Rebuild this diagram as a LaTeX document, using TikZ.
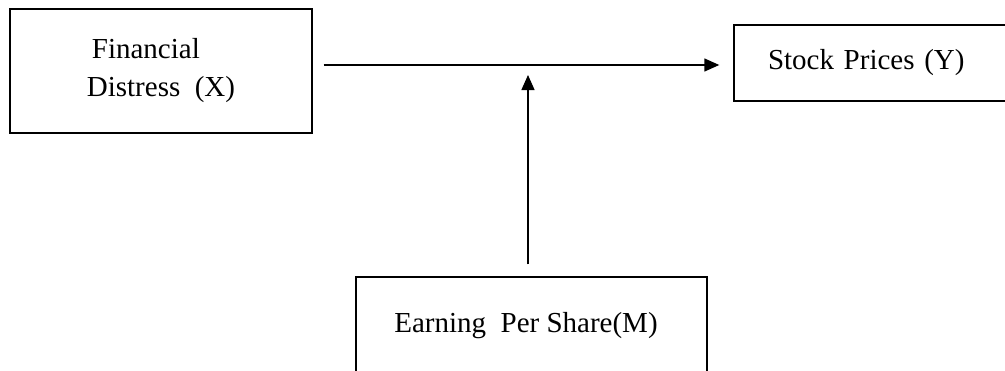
\documentclass[tikz,border=0pt]{standalone}
\usepackage{fontspec}
\setmainfont{Liberation Serif}
\usetikzlibrary{arrows.meta}
\begin{document}
\begin{tikzpicture}[x=1pt,y=-1pt,
  box/.style={draw,line width=1.4pt,rectangle,inner sep=0pt,font=\fontsize{29}{38}\selectfont},
  conn/.style={line width=1.4pt,-{Triangle[length=15pt,width=13pt]}}]
\useasboundingbox (0,0) rectangle (1005,370);
\node[box,minimum width=302pt,minimum height=124pt,align=left] (fd) at (161,71) {\hspace{5pt}Financial\\Distress\ \ (X)};
\node[box,minimum width=280pt,minimum height=76pt,text width=280pt,align=left] (sp) at (874,63) {\hspace{34pt}Stock Prices (Y)};
\node[box,minimum width=351pt,minimum height=106pt,text width=351pt,align=center] (eps) at (531.5,330) {};
\node[font=\fontsize{29}{38}\selectfont] (epst) at (526,326) {Earning\ \ Per Share(M)};
\coordinate (m) at (528,65);
\draw[conn,shorten <=11pt,shorten >=14pt] (fd.east |- m) -- (sp.west |- m);
\draw[conn,shorten <=12pt,shorten >=10pt] (eps.north -| m) -- (m);
\end{tikzpicture}
\end{document}
